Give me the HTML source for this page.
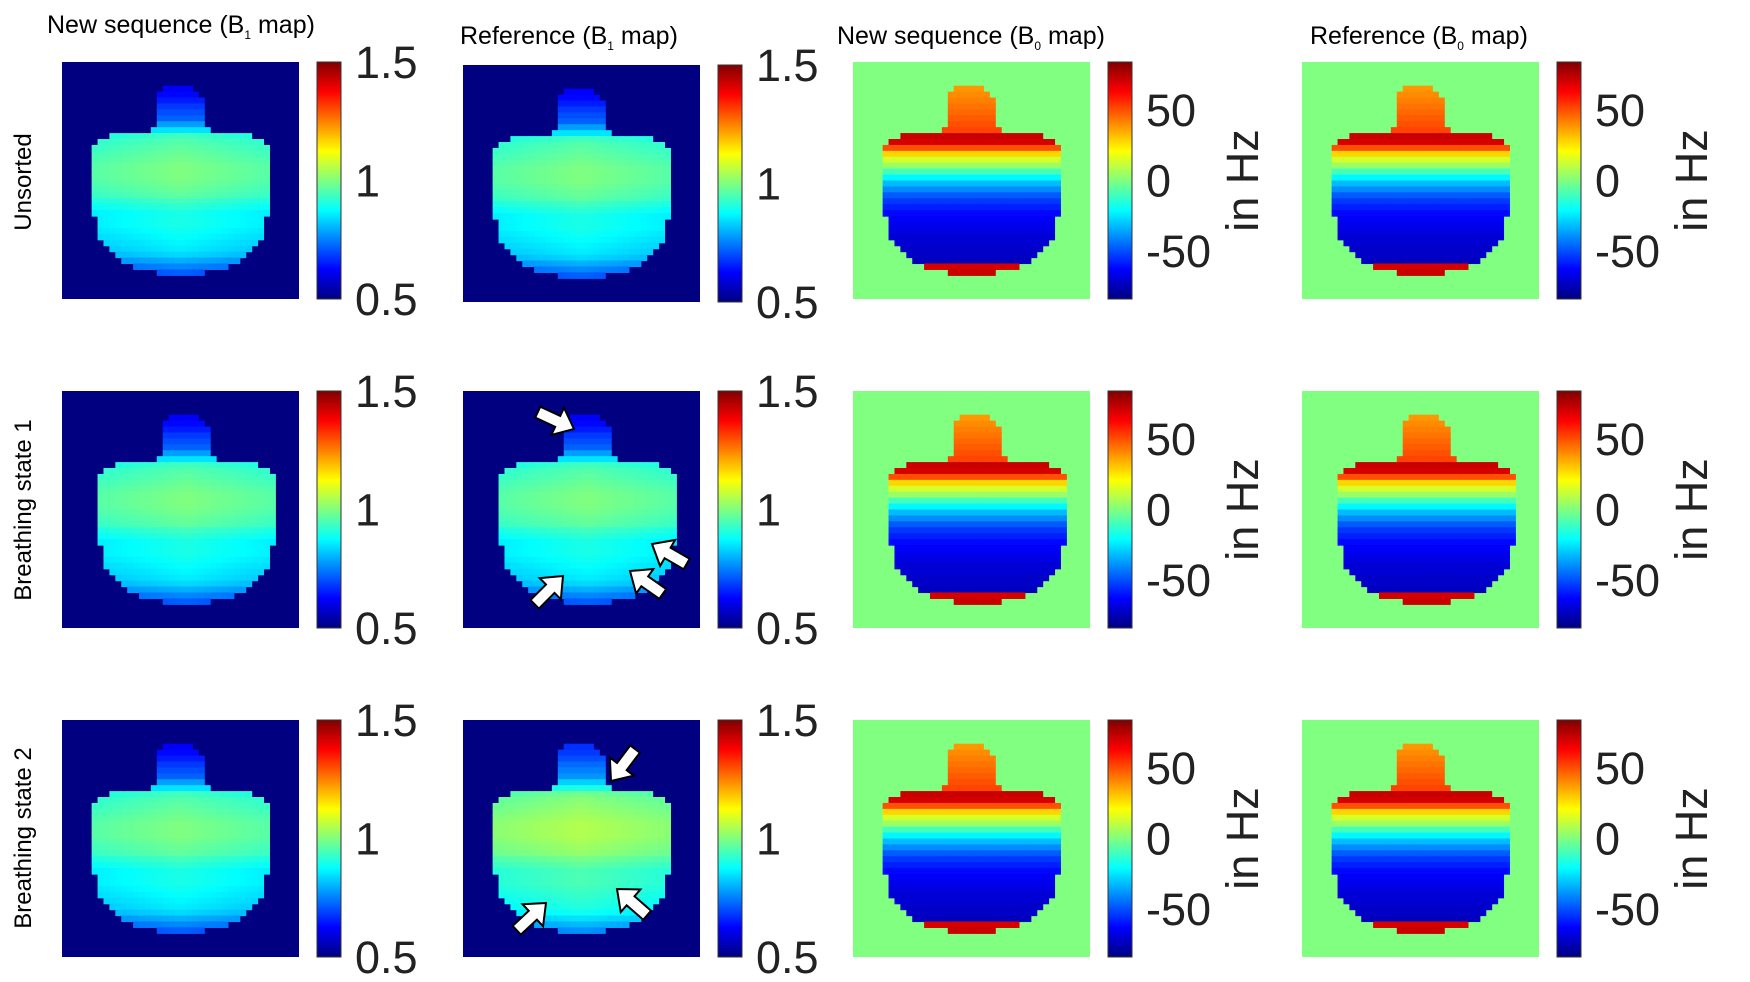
<!DOCTYPE html>
<html><head><meta charset="utf-8"><style>
html,body{margin:0;padding:0;background:#fff;}
svg{display:block;font-family:"Liberation Sans",Arial,sans-serif;}
</style></head><body>
<svg id="fig" width="1750" height="982" viewBox="0 0 1750 982" xmlns="http://www.w3.org/2000/svg">
<defs>
<linearGradient id="jet" x1="0" y1="1" x2="0" y2="0">
<stop offset="0" stop-color="#000080"/><stop offset="0.125" stop-color="#0000ff"/>
<stop offset="0.375" stop-color="#00ffff"/><stop offset="0.625" stop-color="#ffff00"/>
<stop offset="0.875" stop-color="#ff0000"/><stop offset="1" stop-color="#800000"/>
</linearGradient>
</defs>
<g id="titles" font-size="25" fill="#000">
<text x="47" y="33">New sequence (B<tspan font-size="12" dy="6">1</tspan><tspan dy="-6"> map)</tspan></text>
<text x="460" y="44">Reference (B<tspan font-size="12" dy="6">1</tspan><tspan dy="-6"> map)</tspan></text>
<text x="837" y="44">New sequence (B<tspan font-size="12" dy="6">0</tspan><tspan dy="-6"> map)</tspan></text>
<text x="1310" y="44">Reference (B<tspan font-size="12" dy="6">0</tspan><tspan dy="-6"> map)</tspan></text>
</g>
<g id="rowlabels" font-size="24" fill="#000">
<text transform="translate(31,182) rotate(-90)" text-anchor="middle">Unsorted</text>
<text transform="translate(31,510) rotate(-90)" text-anchor="middle">Breathing state 1</text>
<text transform="translate(31,838) rotate(-90)" text-anchor="middle">Breathing state 2</text>
</g>
<g id="maps"></g>
<g id="arrows"></g>
</svg>
<script>
// Data
const rowShape = [null,null,null,null,[17,21],[16,22],[16,23],[16,23],[16,23],[16,23],[16,23],[15,24],
 [8,31],[6,33],[5,34],[5,34],[5,34],[5,34],[5,34],[5,34],[5,34],[5,34],[5,34],[5,34],[5,34],[5,34],
 [6,33],[6,33],[6,33],[6,33],[7,32],[8,31],[9,30],[10,29],[12,27],[16,23],null,null,null,null];
const b1RowVals = [0,0,0,0,0.62,0.63,0.65,0.68,0.7,0.72,0.78,0.85,0.9,0.92,0.93,0.94,0.95,0.96,0.96,0.96,
 0.95,0.94,0.93,0.9,0.88,0.86,0.86,0.86,0.85,0.84,0.83,0.82,0.8,0.76,0.72,0.68,0,0,0,0];
const b0RowVals = [0,0,0,0,38,40,42,44,46,48,50,52,72,70,50,28,14,4,-10,-22,-32,-40,-48,-54,-58,-62,
 -64,-66,-68,-70,-70,-72,-72,-74,70,72,0,0,0,0];
const b1Ticks = [1.5, 1, 0.5];
const b0Ticks = [50, 0, -50];
const b1Range = [0.5, 1.5];
const b0Range = [-84, 84];
const colX = [62, 463, 853, 1302];
const rowY = [62, 391, 720];
const colKind = ['b1','b1','b0','b0'];

function jet(t){t=Math.max(0,Math.min(1,t));
 const c=v=>Math.round(255*Math.max(0,Math.min(1,v)));
 return `rgb(${c(1.5-Math.abs(4*t-3))},${c(1.5-Math.abs(4*t-2))},${c(1.5-Math.abs(4*t-1))})`;}
const NS='http://www.w3.org/2000/svg';
function mk(tag,attrs,parent){const e=document.createElementNS(NS,tag);for(const k in attrs)e.setAttribute(k,attrs[k]);parent.appendChild(e);return e;}
const maps=document.getElementById('maps');
const W=237,H=237,N=40,cs=W/N;
for(let r=0;r<3;r++)for(let c=0;c<4;c++){
 const kind=colKind[c];const x0=colX[c],y0=rowY[r]+(c===1&&r===0?3:0);
 const g=mk('g',{},maps);
 
 
 const rng=kind==='b1'?b1Range:b0Range;
 const bg=mk('rect',{x:x0,y:y0,width:W,height:H,fill:kind==='b1'?'#000080':'#80ff80'},g);
 
 
 const shift=(r===1?1:0);
 for(let i=0;i<N;i++){const s=rowShape[i];if(!s)continue;
  for(let j=s[0];j<=s[1];j++){
   let v;
   if(kind==='b1'){v=b1RowVals[i]+(i>=12?0.04*(1-Math.abs(j-19.5)/15):0)+(c===1&&r===2?0.05:0);}
   else{v=b0RowVals[i];}
   const t=(v-rng[0])/(rng[1]-rng[0]);
   mk('rect',{x:(x0+j*cs+shift*cs).toFixed(2),y:(y0+i*cs).toFixed(2),width:(cs+0.6).toFixed(2),height:(cs+0.6).toFixed(2),fill:jet(t)},g);
  }}
 const bx=x0+255,bw=24;
 const cb=mk('rect',{x:bx,y:y0,width:bw,height:H,fill:'url(#jet)',stroke:'#333','stroke-width':1},g);
 
 
 const ticks=kind==='b1'?b1Ticks:b0Ticks;
 ticks.forEach(tv=>{
  const yy=y0+H-(tv-rng[0])/(rng[1]-rng[0])*H;
  const tl=mk('text',{x:bx+bw+14,y:yy+16,'font-size':45,fill:'#222'},g);
  tl.textContent=String(tv);
  
  
 });
 if(kind==='b0'){
  const u=mk('text',{transform:`translate(${bx+bw+126},${y0+H/2}) rotate(-90)`,'text-anchor':'middle','font-size':45,fill:'#222'},g);
  u.textContent='in Hz';
  
  
 }
}
const arrowsG=document.getElementById('arrows');
const arrowList=[[574,429,25],[652,544,210],[563,576,-45],[630,571,215],[611,781,127],[546,903,-43],[617,889,221]];
function arrow(x,y,ang){
 const g=mk('g',{transform:`translate(${x},${y}) rotate(${ang})`},arrowsG);
 
 
 mk('polygon',{points:'0,0 -18,-15 -18,-6 -40,-6 -40,6 -18,6 -18,15',fill:'#fff',stroke:'#000','stroke-width':2},g);
}
arrowList.forEach(a=>arrow(a[0],a[1],a[2]));
</script>
</body></html>
